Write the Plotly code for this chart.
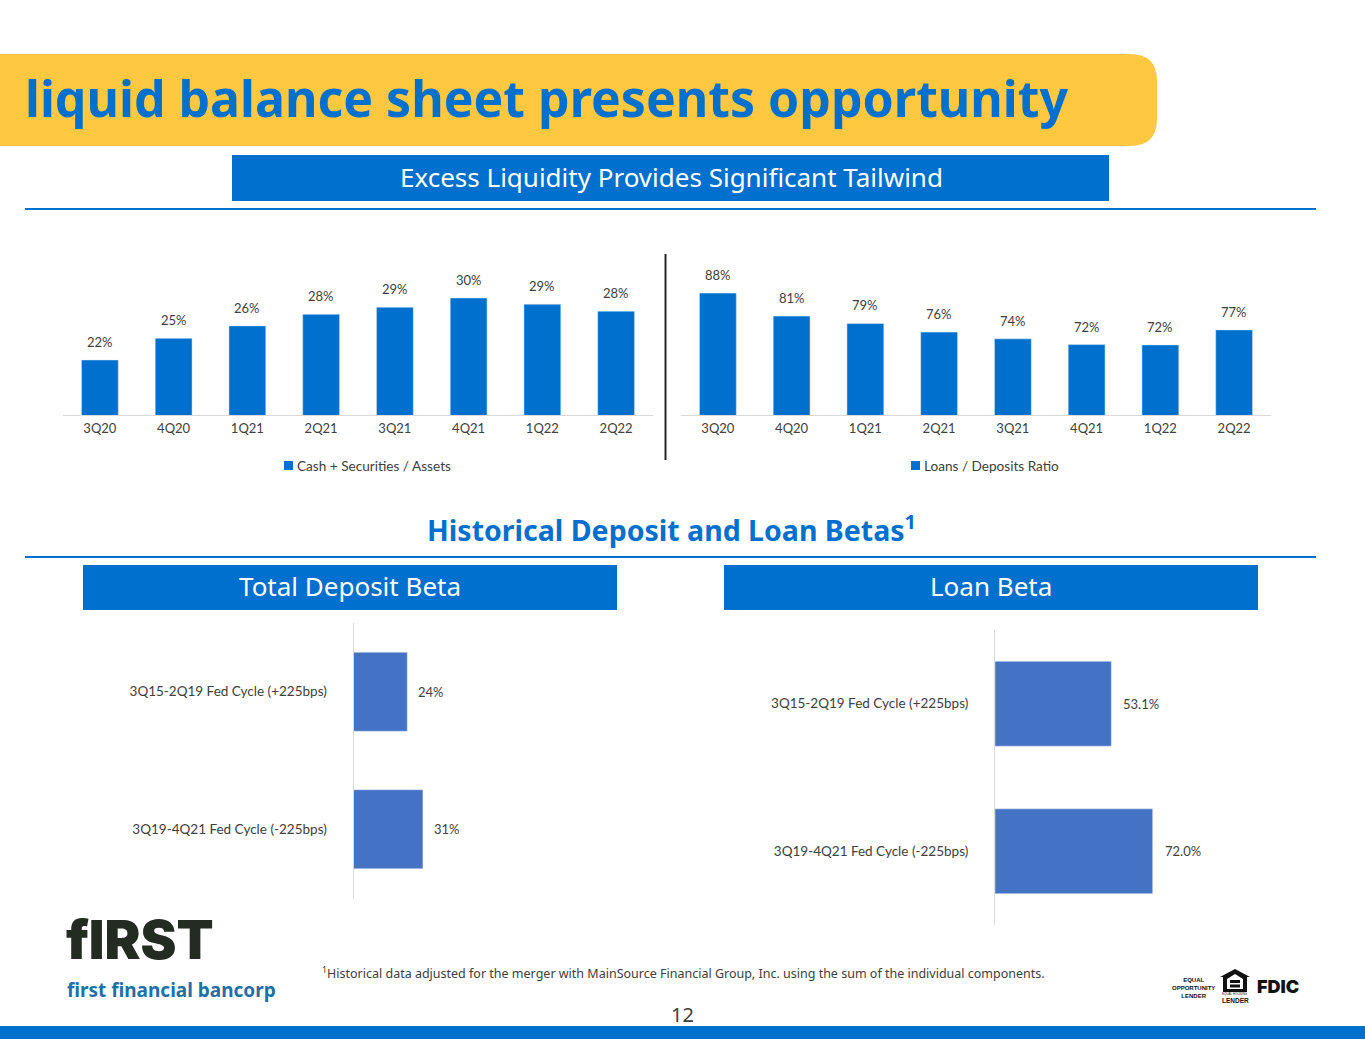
import plotly.graph_objects as go

W, H = 1365, 1055
BLUE = "#0070CE"
BAR2 = "#4472C4"
AXIS = "#D9D9D9"
TXT = "#404040"
CHART_FONT = "Lato"
HEAD_FONT = "Noto Sans"
MARK_FONT = "Liberation Sans"

quarters = ["3Q20", "4Q20", "1Q21", "2Q21", "3Q21", "4Q21", "1Q22", "2Q22"]
cash_securities = [22.1, 24.9, 26.5, 28.0, 28.9, 30.1, 29.3, 28.4]
loans_deposits = [88.1, 80.9, 78.6, 75.9, 73.8, 72.0, 71.9, 76.6]

cycles = ["3Q15-2Q19 Fed Cycle (+225bps)", "3Q19-4Q21 Fed Cycle (-225bps)"]
deposit_beta = [24, 31]
loan_beta = [53.1, 72.0]


def px_x(x):
    return x / W


def px_y(y):
    return 1 - y / H


def rect(x0, y0, x1, y1, color, layer="below"):
    return dict(type="rect", xref="paper", yref="paper", x0=px_x(x0), x1=px_x(x1),
                y0=px_y(y0), y1=px_y(y1), fillcolor=color, line_width=0, layer=layer)


def line(x0, y0, x1, y1, color, width=2):
    return dict(type="line", xref="paper", yref="paper", x0=px_x(x0), x1=px_x(x1),
                y0=px_y(y0), y1=px_y(y1), line=dict(color=color, width=width))


def poly(points, color):
    d = "M " + " L ".join(f"{px_x(x)},{px_y(y)}" for x, y in points) + " Z"
    return dict(type="path", xref="paper", yref="paper", path=d, fillcolor=color, line_width=0)


def label(x, y, text, size, color=TXT, font=CHART_FONT, anchor="center", bold=False, weight=None):
    if bold:
        text = f"<b>{text}</b>"
    f = dict(size=size, color=color, family=font)
    if weight:
        f["weight"] = weight
    return dict(xref="paper", yref="paper", x=px_x(x), y=px_y(y), text=text, showarrow=False,
                xanchor=anchor, yanchor="middle", align="center", font=f)


# title banner with rounded right corners
banner_path = (
    f"M 0,{px_y(54)} L {px_x(1130)},{px_y(54)} "
    f"Q {px_x(1157)},{px_y(54)} {px_x(1157)},{px_y(81)} "
    f"L {px_x(1157)},{px_y(119)} "
    f"Q {px_x(1157)},{px_y(146)} {px_x(1130)},{px_y(146)} "
    f"L 0,{px_y(146)} Z"
)

shapes = [
    dict(type="path", xref="paper", yref="paper", path=banner_path, fillcolor="#FFC840",
         line_width=0, layer="below"),
    rect(232, 155, 1109, 201, BLUE),
    line(25, 209, 1316, 209, BLUE),
    line(665.5, 254, 665.5, 460, "#262626"),
    line(25, 557, 1316, 557, BLUE),
    rect(83, 565, 617, 610, BLUE),
    rect(724, 565, 1258, 610, BLUE),
    rect(0, 1026, W, 1039, BLUE),
    # legend swatches
    rect(284, 461, 293, 470, BLUE),
    rect(911, 461, 920, 470, BLUE),
    # equal housing icon
    poly([(1235, 969), (1250, 977), (1247, 977), (1247, 992), (1223, 992), (1223, 977), (1220, 977)], "#111111"),
    poly([(1235, 974), (1243, 979), (1243, 989), (1227, 989), (1227, 979)], "#FFFFFF"),
    rect(1230, 980, 1240, 983, "#111111", "above"),
    rect(1230, 984.5, 1240, 987.5, "#111111", "above"),
]

annotations = [
    label(23, 98, "liquid balance sheet presents opportunity", 50, BLUE, HEAD_FONT, "left", True),
    label(671, 176.5, "Excess Liquidity Provides Significant Tailwind", 26, "white", HEAD_FONT),
    label(671, 528, "Historical Deposit and Loan Betas<sup>1</sup>", 28.5, BLUE, HEAD_FONT, bold=True),
    label(350, 585.5, "Total Deposit Beta", 26, "white", HEAD_FONT),
    label(991, 585.5, "Loan Beta", 26, "white", HEAD_FONT),
    label(320, 973, "<sup>1</sup>Historical data adjusted for the merger with MainSource Financial Group, Inc. "
          "using the sum of the individual components.", 12.5, TXT, HEAD_FONT, "left"),
    label(682, 1014, "12", 20, TXT, HEAD_FONT),
    label(64, 939, "fIRST", 54, "#232B22", "Inter", "left", weight=900),
    label(65, 990, "first financial bancorp", 19, "#1F6FA8", HEAD_FONT, "left", True),
    label(1193, 988, "EQUAL<br>OPPORTUNITY<br>LENDER", 6, "#111111", MARK_FONT, bold=True),
    label(1235, 993.5, "EQUAL HOUSING", 3, "#111111", MARK_FONT),
    label(1235, 1000.5, "LENDER", 6.5, "#111111", MARK_FONT, bold=True),
    label(1278, 986, "FDIC", 18, "#111111", "Inter", weight=900),
    label(295, 466, "Cash + Securities / Assets", 13.6, TXT, CHART_FONT, "left"),
    label(922, 466, "Loans / Deposits Ratio", 13.6, TXT, CHART_FONT, "left"),
]

fig = go.Figure()

fig.add_trace(go.Bar(x=quarters, y=cash_securities, name="Cash + Securities / Assets", width=0.5,
                     marker_color=BLUE, xaxis="x", yaxis="y"))
fig.add_trace(go.Bar(x=quarters, y=loans_deposits, name="Loans / Deposits Ratio", width=0.5,
                     marker_color=BLUE, xaxis="x2", yaxis="y2"))
fig.add_trace(go.Bar(x=deposit_beta, y=cycles, orientation="h", width=0.575,
                     marker_color=BAR2, xaxis="x3", yaxis="y3"))
fig.add_trace(go.Bar(x=loan_beta, y=cycles, orientation="h", width=0.575,
                     marker_color=BAR2, xaxis="x4", yaxis="y4"))

val_font = dict(size=13, color=TXT, family=CHART_FONT)

# value labels sit a fixed distance off the bar ends
for q, v in zip(quarters, cash_securities):
    annotations.append(dict(xref="x", yref="y", x=q, y=v, text=f"{v:.0f}%", showarrow=False, yshift=18,
                            font=val_font))
for q, v in zip(quarters, loans_deposits):
    annotations.append(dict(xref="x2", yref="y2", x=q, y=v, text=f"{v:.0f}%", showarrow=False, yshift=18,
                            font=val_font))
for c, v in zip(cycles, deposit_beta):
    annotations.append(dict(xref="x3", yref="y3", x=v, y=c, text=f"{v}%", showarrow=False, xshift=9,
                            xanchor="left", font=val_font))
for c, v in zip(cycles, loan_beta):
    annotations.append(dict(xref="x4", yref="y4", x=v, y=c, text=f"{v:.1f}%", showarrow=False, xshift=10,
                            xanchor="left", font=val_font))


def bottom_axis(x0, x1):
    return dict(domain=[px_x(x0), px_x(x1)], showgrid=False, showline=True, linecolor=AXIS, linewidth=1,
                ticks="", tickfont=dict(size=13, color=TXT, family=CHART_FONT), ticklabelstandoff=1,
                zeroline=False)


def hidden_y(y0, y1, lo, hi):
    return dict(domain=[px_y(y1), px_y(y0)], range=[lo, hi], visible=False)


def hbar_x(x0, x1, hi):
    return dict(domain=[px_x(x0), px_x(x1)], range=[0, hi], visible=False)


def hbar_y(y0, y1, anchor, standoff):
    return dict(domain=[px_y(y1), px_y(y0)], range=[1.5, -0.5], showgrid=False, showline=True, linecolor=AXIS,
                linewidth=1, ticks="", tickfont=dict(size=13.5, color=TXT, family=CHART_FONT),
                ticklabelstandoff=standoff, anchor=anchor, zeroline=False)


fig.update_layout(
    width=W,
    height=H,
    margin=dict(l=0, r=0, t=0, b=0),
    paper_bgcolor="white",
    plot_bgcolor="white",
    showlegend=False,
    shapes=shapes,
    annotations=annotations,
    xaxis=dict(bottom_axis(63, 653), anchor="y"),
    yaxis=hidden_y(255, 415, 15, 15 + 160 / 7.75),
    xaxis2=dict(bottom_axis(681, 1271), anchor="y2"),
    yaxis2=hidden_y(255, 415, 50, 50 + 160 / 3.2),
    xaxis3=dict(hbar_x(353.5, 617, 263.5 / 2.24), anchor="y3"),
    yaxis3=hbar_y(623, 898, "x3", 23),
    xaxis4=dict(hbar_x(995, 1258, 263 / 2.19), anchor="y4"),
    yaxis4=hbar_y(630, 925, "x4", 23),
)

fig.write_html("out.html", post_script="document.body.style.margin='0';",
               config=dict(displayModeBar=False))
